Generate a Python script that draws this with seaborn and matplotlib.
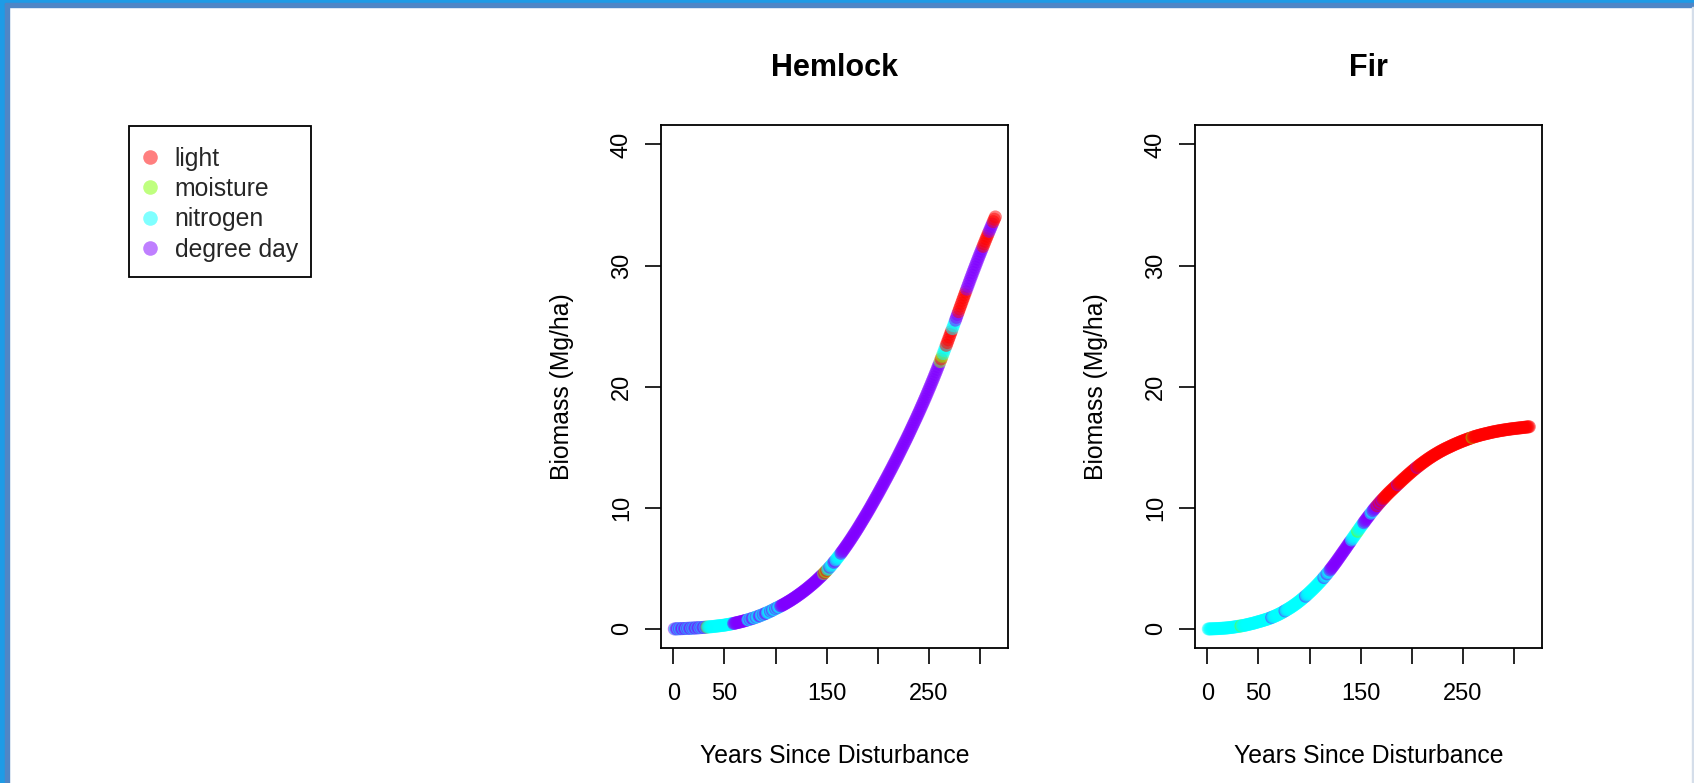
import pandas as pd
import numpy as np
import matplotlib
matplotlib.use("Agg")
import matplotlib.pyplot as plt
from matplotlib.lines import Line2D
from matplotlib.patches import Rectangle
import seaborn as sns

# limiting factors and their colours (rainbow(4) with alpha)
factors = ["light", "moisture", "nitrogen", "degree day"]
factor_codes = ["L", "M", "N", "D"]
factor_colors = ["#FF0000", "#80FF00", "#00FFFF", "#8000FF"]

years = list(range(1, 316))

hemlock_biomass = [
    0.00, 0.00, 0.01, 0.01, 0.01, 0.02, 0.02, 0.02, 0.03, 0.03,
    0.03, 0.04, 0.04, 0.05, 0.05, 0.05, 0.06, 0.06, 0.07, 0.07,
    0.08, 0.08, 0.09, 0.09, 0.10, 0.10, 0.11, 0.12, 0.12, 0.13,
    0.14, 0.14, 0.15, 0.16, 0.17, 0.18, 0.18, 0.19, 0.20, 0.21,
    0.22, 0.23, 0.24, 0.25, 0.26, 0.27, 0.28, 0.29, 0.30, 0.31,
    0.33, 0.34, 0.36, 0.37, 0.39, 0.40, 0.42, 0.44, 0.45, 0.47,
    0.49, 0.51, 0.53, 0.55, 0.57, 0.59, 0.61, 0.63, 0.66, 0.68,
    0.70, 0.73, 0.75, 0.78, 0.80, 0.83, 0.86, 0.88, 0.91, 0.94,
    0.97, 1.00, 1.03, 1.06, 1.10, 1.13, 1.16, 1.20, 1.23, 1.27,
    1.31, 1.34, 1.38, 1.42, 1.46, 1.50, 1.54, 1.59, 1.63, 1.68,
    1.72, 1.76, 1.80, 1.84, 1.89, 1.93, 1.98, 2.02, 2.07, 2.12,
    2.17, 2.22, 2.27, 2.32, 2.37, 2.43, 2.48, 2.54, 2.59, 2.65,
    2.71, 2.77, 2.83, 2.89, 2.95, 3.01, 3.08, 3.14, 3.21, 3.27,
    3.34, 3.41, 3.48, 3.55, 3.62, 3.69, 3.76, 3.84, 3.91, 3.99,
    4.07, 4.15, 4.23, 4.31, 4.39, 4.47, 4.56, 4.64, 4.73, 4.82,
    4.91, 5.00, 5.10, 5.19, 5.29, 5.39, 5.49, 5.59, 5.70, 5.80,
    5.91, 6.02, 6.13, 6.24, 6.36, 6.47, 6.59, 6.71, 6.83, 6.95,
    7.07, 7.20, 7.32, 7.45, 7.58, 7.71, 7.84, 7.97, 8.10, 8.24,
    8.37, 8.51, 8.65, 8.79, 8.93, 9.07, 9.21, 9.35, 9.49, 9.63,
    9.78, 9.92, 10.07, 10.22, 10.37, 10.52, 10.67, 10.82, 10.97, 11.12,
    11.27, 11.43, 11.58, 11.74, 11.89, 12.05, 12.21, 12.36, 12.52, 12.68,
    12.84, 13.00, 13.16, 13.32, 13.49, 13.65, 13.81, 13.98, 14.14, 14.31,
    14.48, 14.65, 14.82, 14.99, 15.16, 15.33, 15.50, 15.67, 15.85, 16.02,
    16.20, 16.38, 16.56, 16.74, 16.92, 17.10, 17.28, 17.46, 17.65, 17.83,
    18.02, 18.21, 18.40, 18.59, 18.78, 18.98, 19.17, 19.37, 19.57, 19.77,
    19.97, 20.17, 20.38, 20.58, 20.79, 21.00, 21.21, 21.42, 21.64, 21.85,
    22.07, 22.29, 22.51, 22.73, 22.96, 23.18, 23.41, 23.64, 23.87, 24.10,
    24.33, 24.56, 24.79, 25.02, 25.26, 25.49, 25.72, 25.96, 26.19, 26.43,
    26.66, 26.89, 27.13, 27.36, 27.59, 27.82, 28.05, 28.28, 28.51, 28.74,
    28.97, 29.19, 29.42, 29.64, 29.86, 30.08, 30.30, 30.52, 30.74, 30.95,
    31.16, 31.37, 31.58, 31.79, 32.00, 32.21, 32.41, 32.62, 32.82, 33.02,
    33.22, 33.42, 33.62, 33.82, 34.01,
]

fir_biomass = [
    0.00, 0.00, 0.00, 0.01, 0.01, 0.01, 0.02, 0.02, 0.02, 0.03,
    0.03, 0.04, 0.04, 0.05, 0.05, 0.06, 0.07, 0.07, 0.08, 0.09,
    0.10, 0.11, 0.12, 0.13, 0.14, 0.15, 0.17, 0.18, 0.19, 0.21,
    0.22, 0.23, 0.25, 0.26, 0.28, 0.29, 0.31, 0.33, 0.35, 0.37,
    0.39, 0.41, 0.43, 0.45, 0.47, 0.49, 0.52, 0.54, 0.57, 0.59,
    0.61, 0.64, 0.66, 0.69, 0.71, 0.74, 0.77, 0.79, 0.82, 0.85,
    0.88, 0.91, 0.95, 0.98, 1.02, 1.05, 1.09, 1.13, 1.17, 1.21,
    1.25, 1.30, 1.34, 1.39, 1.44, 1.49, 1.54, 1.59, 1.64, 1.69,
    1.74, 1.80, 1.85, 1.91, 1.97, 2.03, 2.09, 2.15, 2.22, 2.28,
    2.35, 2.42, 2.49, 2.56, 2.63, 2.70, 2.78, 2.85, 2.93, 3.01,
    3.09, 3.17, 3.25, 3.33, 3.42, 3.50, 3.59, 3.68, 3.77, 3.86,
    3.95, 4.05, 4.14, 4.24, 4.34, 4.44, 4.54, 4.65, 4.75, 4.86,
    4.97, 5.08, 5.19, 5.30, 5.42, 5.53, 5.65, 5.77, 5.89, 6.01,
    6.13, 6.25, 6.37, 6.49, 6.61, 6.73, 6.86, 6.98, 7.10, 7.22,
    7.34, 7.46, 7.58, 7.70, 7.82, 7.94, 8.06, 8.18, 8.30, 8.42,
    8.54, 8.65, 8.77, 8.88, 9.00, 9.11, 9.22, 9.33, 9.44, 9.55,
    9.66, 9.76, 9.87, 9.97, 10.07, 10.17, 10.27, 10.37, 10.46, 10.56,
    10.65, 10.74, 10.83, 10.92, 11.01, 11.10, 11.18, 11.27, 11.35, 11.43,
    11.51, 11.59, 11.67, 11.75, 11.83, 11.91, 11.99, 12.07, 12.15, 12.23,
    12.31, 12.39, 12.46, 12.54, 12.62, 12.69, 12.77, 12.84, 12.91, 12.99,
    13.06, 13.13, 13.20, 13.27, 13.34, 13.40, 13.47, 13.54, 13.60, 13.66,
    13.73, 13.79, 13.85, 13.91, 13.97, 14.03, 14.09, 14.14, 14.20, 14.25,
    14.31, 14.36, 14.41, 14.46, 14.51, 14.56, 14.61, 14.66, 14.70, 14.75,
    14.79, 14.84, 14.88, 14.92, 14.96, 15.00, 15.04, 15.08, 15.12, 15.16,
    15.20, 15.24, 15.27, 15.31, 15.35, 15.38, 15.42, 15.45, 15.49, 15.52,
    15.55, 15.58, 15.62, 15.65, 15.68, 15.71, 15.74, 15.77, 15.80, 15.83,
    15.86, 15.88, 15.91, 15.93, 15.96, 15.98, 16.00, 16.03, 16.05, 16.07,
    16.09, 16.11, 16.13, 16.15, 16.17, 16.19, 16.21, 16.23, 16.25, 16.27,
    16.28, 16.30, 16.32, 16.33, 16.35, 16.36, 16.38, 16.39, 16.41, 16.42,
    16.43, 16.45, 16.46, 16.47, 16.48, 16.50, 16.51, 16.52, 16.53, 16.54,
    16.55, 16.56, 16.57, 16.58, 16.59, 16.60, 16.61, 16.62, 16.63, 16.64,
    16.65, 16.66, 16.67, 16.68, 16.69,
]

# limiting factor for each year (L light, M moisture, N nitrogen, D degree day)
hemlock_limit = ("DNDDNDNDDN" "DDNDNDDNDN" "DDNDDNDNDD" "ND" + "M" + "N" * 25 + "D" * 14
                 + "NNDNDDNNDN" "NDDNNDNDDN" "NNDNDNNDND" "NN" + "D" * 42
                 + "MLMLNNDNNNDDNNNNN" + "D" * 97 + "MLM" + "NNN" + "L" * 6 + "N" * 3
                 + "D" * 3 + "L" * 8 + "D" * 16 + "L" * 6 + "D" * 4 + "L" * 3)
fir_limit = ("N" * 32 + "M" + "N" * 29 + "D" + "N" * 12 + "D" + "N" * 19 + "D" + "N" * 17
             + "D" + "NN" + "D" + "NN" + "D" * 21 + "N" * 6 + "M" + "N" * 5 + "D" * 7 + "NN"
             + "D" * 4 + "LDLDLD" + "L" * 14 + "D" + "L" * 18 + "D" + "L" * 53 + "M" + "L" * 56)

x_ticks = [0, 50, 100, 150, 200, 250, 300]
x_tick_labels = ["0", "50", "", "150", "", "250", ""]
y_ticks = [0, 10, 20, 30, 40]

code_to_name = dict(zip(factor_codes, factors))
palette = dict(zip(factors, factor_colors))

sns.set_theme(style="white")
plt.rcParams["font.family"] = ["Liberation Sans", "DejaVu Sans"]

W, H = 1694, 783
fig = plt.figure(figsize=(W / 100, H / 100), dpi=100)

# window frame of the screenshot
fig.patches.append(Rectangle((0, 0), 5 / W, 1, transform=fig.transFigure, color="#1E9BE6", zorder=0))
fig.patches.append(Rectangle((5 / W, 0), 4 / W, 1, transform=fig.transFigure, color="#4F86C6", zorder=0))
fig.patches.append(Rectangle((0, 1 - 3 / H), 1, 3 / H, transform=fig.transFigure, color="#1E9BE6", zorder=0))
fig.patches.append(Rectangle((5 / W, 1 - 7 / H), 1, 4 / H, transform=fig.transFigure, color="#4F86C6", zorder=0))
fig.patches.append(Rectangle((1 - 2 / W, 0), 2 / W, 1 - 7 / H, transform=fig.transFigure, color="#D5DEEA", zorder=0))

panels = [("Hemlock", hemlock_biomass, hemlock_limit, 661),
          ("Fir", fir_biomass, fir_limit, 1195)]

for title, biomass, limit, left_px in panels:
    df = pd.DataFrame({"year": years, "biomass": biomass,
                       "factor": [code_to_name[c] for c in limit]})
    ax = fig.add_axes([left_px / W, 134.7 / H, 347 / W, 523.3 / H])
    sns.scatterplot(data=df, x="year", y="biomass", hue="factor", hue_order=factors,
                    palette=palette, alpha=0.5, s=88, linewidth=0, legend=False, ax=ax)
    ax.set_xlim(-12.0, 327.4)
    ax.set_ylim(-1.6, 41.6)
    ax.set_xticks(x_ticks)
    ax.set_xticklabels(x_tick_labels)
    ax.set_yticks(y_ticks)
    ax.set_yticklabels([str(v) for v in y_ticks], rotation=90, va="center")
    ax.tick_params(axis="both", direction="out", length=11.3, width=1.2, color="black",
                   labelsize=17, labelcolor="black", left=True, bottom=True)
    ax.tick_params(axis="x", pad=14)
    ax.tick_params(axis="y", pad=9)
    for sp in ax.spines.values():
        sp.set_color("black")
        sp.set_linewidth(1.3)
    ax.set_xlabel("Years Since Disturbance", fontsize=17.8, color="black", labelpad=27.5)
    ax.set_ylabel("Biomass (Mg/ha)", fontsize=17.8, color="black", labelpad=26.5)
    ax.set_title(title, fontsize=22, fontweight="bold", color="black", pad=35)
    ax.set_facecolor("white")

# legend (drawn in the empty first panel, with its own box)
handles = [Line2D([], [], marker="o", linestyle="", markersize=10.5, markeredgewidth=0,
                  markerfacecolor=c, alpha=0.5) for c in factor_colors]
fig.legend(handles, factors, loc="upper left", bbox_to_anchor=(129 / W, 1 - 133 / H),
           fontsize=17.8, frameon=False, handlelength=0.6, handletextpad=0.7,
           borderpad=0.55, labelspacing=0.255, borderaxespad=0)
fig.patches.append(Rectangle((129 / W, 1 - 277 / H), 182 / W, 151 / H, transform=fig.transFigure,
                             facecolor="none", edgecolor="black", linewidth=1.3, zorder=3))

fig.savefig("out.png", dpi=100)
plt.close(fig)
